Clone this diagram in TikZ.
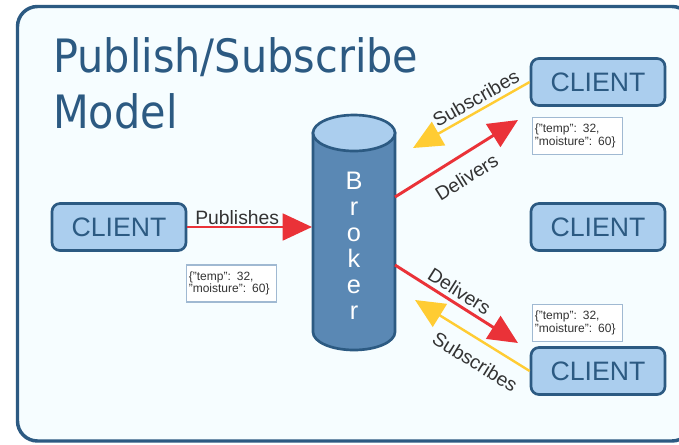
\documentclass[tikz,border=0pt]{standalone}
\usepackage{fontspec}
\setmainfont{Liberation Sans}
\newfontfamily\titlefont{DejaVu Sans}[FakeStretch=0.9]
\usepackage{tikz}
\usetikzlibrary{arrows.meta}

\definecolor{frameblue}{RGB}{44,90,130}
\definecolor{paneback}{RGB}{246,253,255}
\definecolor{clientblue}{RGB}{171,206,238}
\definecolor{brokerblue}{RGB}{90,136,180}
\definecolor{arrowred}{RGB}{234,50,56}
\definecolor{arrowyellow}{RGB}{255,204,51}
\definecolor{labelgray}{RGB}{51,51,51}
\definecolor{jsonline}{RGB}{160,185,210}

\begin{document}
\begin{tikzpicture}[x=0.75pt,y=-0.75pt,
    client/.style={draw=frameblue, line width=2pt, fill=clientblue, rounded corners=6pt,
        minimum width=100.5pt, minimum height=35.25pt, inner sep=0pt,
        text=frameblue, font=\fontsize{20}{24}\selectfont},
    json/.style={draw=jsonline, line width=0.8pt, fill=white, align=left,
        text width=64pt, inner xsep=1.5pt, minimum height=27.75pt,
        text=labelgray, font=\fontsize{9}{9.5}\selectfont},
    delivers/.style={draw=arrowred, line width=2.2pt, -{Triangle[length=22pt,width=20pt]}},
    subscribes/.style={draw=arrowyellow, line width=1.8pt, -{Triangle[length=22pt,width=20pt]}},
    lbl/.style={text=labelgray, font=\fontsize{14.5}{17}\selectfont, sloped, inner sep=1pt}]

        \useasboundingbox (0,0) rectangle (679,444);
        \fill[white] (0,0) rectangle (679,444);

        % --- FRAME AND TITLE ---
        \filldraw[draw=frameblue, fill=paneback, line width=2.6pt, rounded corners=15pt] (17.5,6.5) rectangle (692,441);
        \node[anchor=north west, inner sep=0pt, align=left, text=frameblue,
              font=\titlefont\fontsize{34.5}{42}\selectfont] (title) at (53,37) {Publish/Subscribe\\Model};

        % --- BROKER ---
        \filldraw[draw=frameblue, fill=brokerblue, line width=2pt] (313,133) -- (313,332)
            arc[start angle=180, end angle=360, x radius=30.75pt, y radius=13.5pt] -- (395,133) -- cycle;
        \filldraw[draw=frameblue, fill=clientblue, line width=2pt] (354,133) ellipse [x radius=30.75pt, y radius=13.5pt];
        \node[align=center, inner sep=0pt, text=white, font=\fontsize{19}{19.5}\selectfont] (broker) at (354,246) {B\\r\\o\\k\\e\\r};

        % --- CLIENTS ---
        \node[client] (client1) at (119,227) {CLIENT};
        \node[client] (client2) at (598,82) {CLIENT};
        \node[client] (client3) at (598,227) {CLIENT};
        \node[client] (client4) at (598,371) {CLIENT};

        % --- MESSAGES ---
        \node[json] (msg1) at (231.5,283.5) {\{"temp": 32,\\"moisture": 60\}};
        \node[json] (msg2) at (577.5,136) {\{"temp": 32,\\"moisture": 60\}};
        \node[json] (msg3) at (577.5,323) {\{"temp": 32,\\"moisture": 60\}};

        % --- ARROWS ---
        \coordinate (pubtip) at (312,227);
        \coordinate (deltail1) at (395,197);
        \coordinate (deltip1) at (518,120);
        \coordinate (deltail2) at (395,265);
        \coordinate (deltip2) at (518,343);
        \coordinate (subtip1) at (413,148);
        \coordinate (subtip2) at (415,300);

        \draw[delivers] (client1.east) -- node[lbl, above, pos=0.4] {Publishes} (pubtip);
        \draw[delivers] (deltail1) -- node[lbl, below=8.5pt, pos=0.49] {Delivers} (deltip1);
        \draw[delivers] (deltail2) -- node[lbl, above=2pt, pos=0.47] {Delivers} (deltip2);
        \draw[subscribes] (client2.west) -- node[lbl, above=2pt, pos=0.41] {Subscribes} (subtip1);
        \draw[subscribes] (client4.west) -- node[lbl, below=8.5pt, pos=0.38] {Subscribes} (subtip2);
    \end{tikzpicture}
\end{document}
